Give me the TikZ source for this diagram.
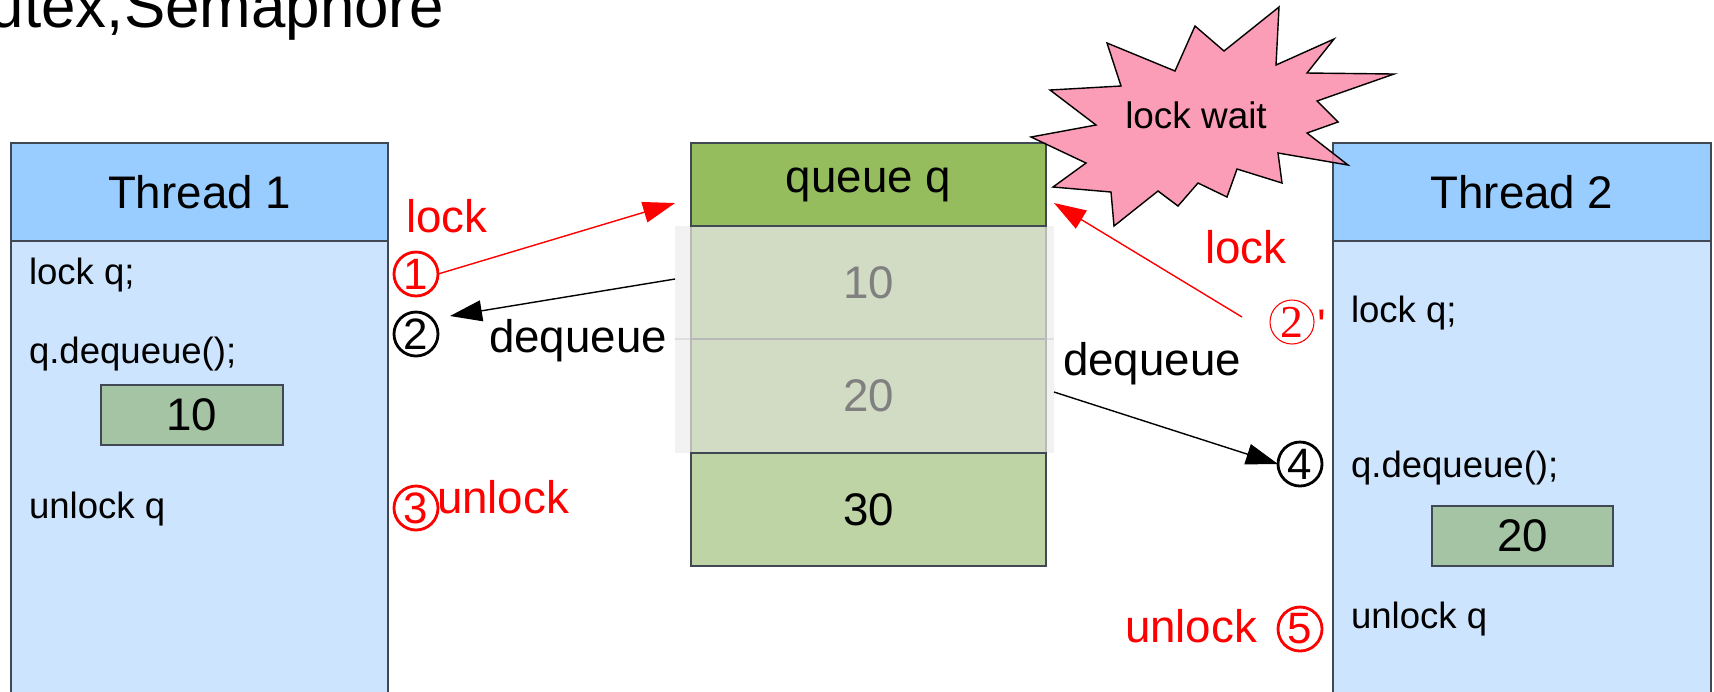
\documentclass[tikz,border=0pt]{standalone}
\usepackage{fontspec}
\setmainfont{Liberation Sans}
\newfontfamily\serifnum{Liberation Serif}
\usepackage{tikz}
\usetikzlibrary{arrows.meta,calc}
\definecolor{headblue}{RGB}{153,204,255}
\definecolor{bodyblue}{RGB}{204,228,253}
\definecolor{boxedge}{RGB}{64,72,84}
\definecolor{valgreen}{RGB}{165,196,164}
\definecolor{qgreen}{RGB}{149,189,94}
\definecolor{qpale}{RGB}{210,220,196}
\definecolor{qcell}{RGB}{191,212,165}
\definecolor{backgray}{RGB}{242,242,242}
\definecolor{starpink}{RGB}{250,140,170}

\begin{document}
\begin{tikzpicture}[x=0.1mm,y=-0.1mm,
  every node/.style={inner sep=0pt,outer sep=0pt},
  big/.style={font=\fontsize{13}{15}\selectfont},
  code/.style={font=\fontsize{10.4}{12}\selectfont,anchor=base west},
  headbox/.style={big,draw=boxedge,line width=0.5pt,fill=headblue,anchor=north west,minimum height=9.8mm},
  bodybox/.style={draw=boxedge,line width=0.5pt,fill=bodyblue,anchor=north west,minimum height=46mm},
  valbox/.style={big,draw=boxedge,line width=0.5pt,fill=valgreen,anchor=north west,minimum width=18.2mm,minimum height=6mm},
  qbox/.style={big,anchor=north west,minimum width=35.5mm,line width=0.5pt},
  num/.style={circle,draw,line width=0.8pt,minimum size=4.4mm,font=\fontsize{12.5}{12.5}\selectfont},
  tip/.style={line width=0.4pt,-{Triangle[length=3.2mm,width=2.1mm]}}]
\useasboundingbox (0,0) rectangle (1714,691);
\node[anchor=base west,font=\fontsize{17.6}{20}\selectfont] (title) at (-10,27) {utex,Semaphore};

\node[bodybox,minimum width=37.7mm] (t1body) at (11,241) {};
\node[headbox,minimum width=37.7mm] (t1head) at (11,143) {Thread 1};
\node[code] (t1lock) at (29,284) {lock q;};
\node[code] (t1deq) at (29,363) {q.dequeue();};
\node[valbox] (t1val) at (101,385) {10};
\node[code] (t1unlock) at (29,518) {unlock q};

\node[bodybox,minimum width=37.8mm] (t2body) at (1333,241) {};
\node[headbox,minimum width=37.8mm] (t2head) at (1333,143) {Thread 2};
\node[code] (t2lock) at (1351,322) {lock q;};
\node[code] (t2deq) at (1351,477) {q.dequeue();};
\node[valbox,minimum width=18.1mm] (t2val) at (1432,506) {20};
\node[code] (t2unlock) at (1351,628) {unlock q};

\fill[backgray] (675,226) rectangle (1054,453);
\draw[gray!25,line width=0.4pt] (675,339) -- (1054,339);
\node[qbox,draw=gray!55,fill=qpale,text=gray,minimum height=11.3mm] (cell10) at (691,226) {10};
\node[qbox,draw=gray!55,fill=qpale,text=gray,minimum height=11.4mm] (cell20) at (691,339) {20};
\node[qbox,draw=boxedge,fill=qcell,minimum height=11.3mm] (cell30) at (691,453) {30};
\node[qbox,draw=boxedge,fill=qgreen,minimum height=8.3mm] (qhead) at (691,143) {queue q};

\node[big,red,anchor=base west] (lock1) at (406,232) {lock};
\node[num,red] (c1) at (416,274) {1};
\node[num] (c2) at (416,334) {2};
\node[big,anchor=base west] (deq1) at (489,352) {dequeue};
\node[num,red] (c3) at (416,508) {3};
\node[big,red,anchor=base west] (unlock1) at (437,513) {unlock};

\node[big,red,anchor=base west] (lock2) at (1205,263) {lock};
\node[num,red,line width=0.3pt,font=\serifnum\fontsize{13}{13}\selectfont] (c2p) at (1292,322) {2};
\node[big,red,anchor=base west] (prime) at (1317,341) {\textquotesingle};
\node[big,anchor=base west] (deq2) at (1063,375) {dequeue};
\node[num] (c4) at (1300,464) {4};
\node[big,red,anchor=base west] (unlock2) at (1125,642) {unlock};
\node[num,red] (c5) at (1300,629) {5};

\draw[red,tip] (c1.east) -- ($(qhead.west)+(-16,18.5)$);
\draw[tip] ($(cell10.west)+(-16,-3.5)$) -- ($(c2)+(34,-18)$);
\draw[red,tip] ($(c2p.west)+(-28,-5)$) -- ($(qhead.east)+(8,18.5)$);
\draw[tip] ($(cell20.east)+(8,-4)$) -- (c4.west);

\filldraw[fill=starpink,fill opacity=0.85,draw=black,line width=0.4pt]
  (1031,137) -- (1096,125) -- (1050,90) -- (1121,86) -- (1107,43) -- (1175,71)
  -- (1195,26) -- (1224,51) -- (1279,7) -- (1276,65) -- (1334,39) -- (1307,73)
  -- (1394,74) -- (1317,101) -- (1338,122) -- (1307,133) -- (1348,165) -- (1278,153)
  -- (1282,183) -- (1237,169) -- (1227,197) -- (1198,183) -- (1178,206) -- (1158,191)
  -- (1114,226) -- (1111,192) -- (1053,187) -- (1086,163) -- cycle;
\node[font=\fontsize{10.5}{12}\selectfont,anchor=base] (wait) at (1196,128) {lock wait};
\end{tikzpicture}
\end{document}
